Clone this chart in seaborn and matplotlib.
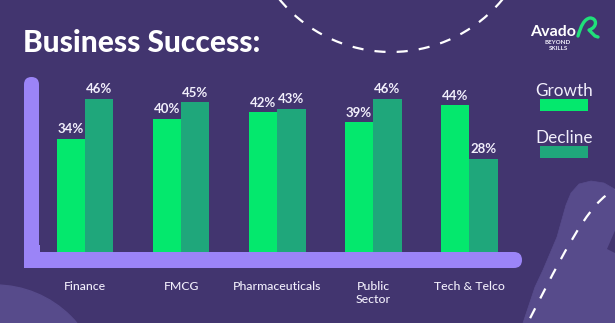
import numpy as np
import pandas as pd
import seaborn as sns
import matplotlib.pyplot as plt
from matplotlib.patches import FancyBboxPatch, Rectangle, Circle, PathPatch, Polygon
from matplotlib.path import Path
from matplotlib.transforms import Affine2D

# Survey results by sector (percent of respondents)
sectors = ["Finance", "FMCG", "Pharmaceuticals", "Public\nSector", "Tech & Telco"]
growth = [34, 40, 42, 39, 44]
decline = [46, 45, 43, 46, 28]
series_names = ["Growth", "Decline"]

BG = "#42356f"
BLOB = "#574b8b"
AXIS = "#9b84f7"
GREEN = "#04e86d"
TEAL = "#1fa77b"
TXT = "#f1eefb"

W, H, DPI = 615, 323, 100

sns.set_theme(style="white")
plt.rcParams["font.family"] = ["Lato", "DejaVu Sans"]

fig = plt.figure(figsize=(W / DPI, H / DPI), dpi=DPI, facecolor=BG)

# pixel coordinates measured from the top-left corner
px = Affine2D().scale(1 / DPI).scale(1, -1).translate(0, H / DPI) + fig.dpi_scale_trans


def fy(y):
    return (H - y) / H


def fx(x):
    return x / W


# background decoration
fig.patches.append(Circle((-5, 392), 107, transform=px, color=BLOB, zorder=-3))
blob = Path(
    [(520, 335), (523, 323), (535, 287), (543, 270), (557, 237), (566, 205), (571, 193),
     (579, 184), (591, 181), (604, 183), (618, 191), (618, 335), (520, 335)],
    closed=True,
)
fig.patches.append(PathPatch(blob, transform=px, facecolor=BLOB, edgecolor=BLOB, lw=0.5,
                             joinstyle="round", zorder=-3))
fig.patches.append(Polygon([(607, 249), (617, 226), (617, 254)], transform=px,
                           facecolor=BG, edgecolor="none", zorder=-2))

th = np.linspace(0, np.pi, 200)
arc1_x = 391 + 144.5 * np.cos(th)
arc1_y = -92.5 + 144.5 * np.sin(th)
fig.lines.append(plt.Line2D(arc1_x, arc1_y, transform=px, color="white", lw=1.6,
                            dashes=(5, 5), zorder=-1))
swoosh = Path([(520, 338), (555, 270), (590, 195), (617, 190)],
              [Path.MOVETO, Path.CURVE4, Path.CURVE4, Path.CURVE4])
fig.patches.append(PathPatch(swoosh, transform=px, facecolor="none", edgecolor="white",
                             lw=1.6, linestyle=(0, (5, 5)), zorder=-1))

# bar chart
ax = fig.add_axes([fx(24), fy(252), 498 / W, 175 / H])
ax.set_facecolor("none")

df = pd.DataFrame({
    "sector": sectors * 2,
    "value": growth + decline,
    "series": [series_names[0]] * len(sectors) + [series_names[1]] * len(sectors),
})
sns.barplot(data=df, x="sector", y="value", hue="series", hue_order=series_names,
            palette=[GREEN, TEAL], width=0.59, gap=0, saturation=1, legend=False,
            linewidth=0, ax=ax)

for cont in ax.containers:
    ax.bar_label(cont, fmt="%d%%", padding=2.5, color=TXT, fontsize=9.5, fontweight="bold")

ax.set_xlim(-0.635, 4.547)
ax.set_ylim(0, 52.5)
ax.set_xlabel("")
ax.set_ylabel("")
ax.set_yticks([])
ax.set_xticks(range(len(sectors)))
ax.set_xticklabels(sectors, color=TXT, fontsize=8.8, fontweight="medium", linespacing=1.25)
ax.tick_params(axis="x", length=0, pad=21)
for s in ax.spines.values():
    s.set_visible(False)

# L-shaped axis bars
fig.patches.append(FancyBboxPatch((24, 77), 15, 191, boxstyle="round,pad=0,rounding_size=7.5",
                                  transform=px, facecolor=AXIS, edgecolor="none", zorder=2))
fig.patches.append(FancyBboxPatch((24, 252), 498, 16, boxstyle="round,pad=0,rounding_size=8",
                                  transform=px, facecolor=AXIS, edgecolor="none", zorder=2))
fig.patches.append(Rectangle((24, 245), 16, 23, transform=px, facecolor=AXIS,
                             edgecolor="none", zorder=2))

# title
fig.text(fx(23.5), fy(52), "Business Success:", color="white", fontsize=21.5,
         fontweight="black", va="baseline", ha="left")

# legend
for name, col, ty, ry in [("Growth", GREEN, 91, 99), ("Decline", TEAL, 138, 146)]:
    fig.text(fx(564), fy(ty), name, color=TXT, fontsize=12.3, ha="center", va="center")
    fig.patches.append(Rectangle((540, ry), 48, 12, transform=px, facecolor=col,
                                 edgecolor="none"))

# brand mark
fig.text(fx(553), fy(36), "Avado", color="white", fontsize=11.5, fontweight="bold",
         ha="center", va="baseline")
fig.text(fx(558), fy(42.5), "BEYOND", color=TXT, fontsize=4.5, fontweight="bold",
         ha="center", va="center")
fig.text(fx(558), fy(49), "SKILLS", color=TXT, fontsize=4.5, fontweight="bold",
         ha="center", va="center")
mark = Path(
    [(578, 36), (581, 26), (584, 19), (590, 18), (597, 18), (598, 27), (589, 30), (592, 33), (595, 36), (598, 37)],
    [Path.MOVETO, Path.CURVE4, Path.CURVE4, Path.CURVE4, Path.CURVE4, Path.CURVE4, Path.CURVE4,
     Path.CURVE3, Path.CURVE3, Path.LINETO],
)
fig.patches.append(PathPatch(mark, transform=px, facecolor="none", edgecolor="#20e07a",
                             lw=2.4, capstyle="round", joinstyle="round"))

fig.savefig("out.png", dpi=DPI, facecolor=BG)
